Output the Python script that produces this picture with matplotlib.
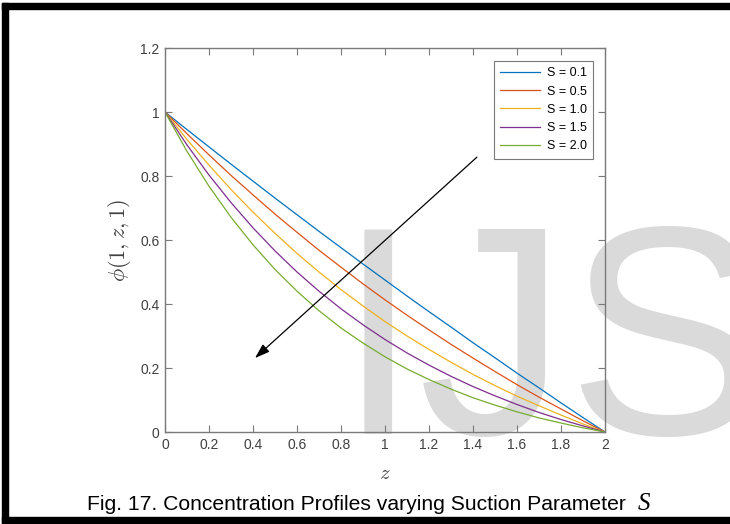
import numpy as np
import matplotlib
matplotlib.use("Agg")
import matplotlib.pyplot as plt
from matplotlib.patches import Rectangle

plt.rcParams["mathtext.fontset"] = "cm"

# values (z = 0, 0.1, ..., 2)
z = [0.0, 0.1, 0.2, 0.3, 0.4, 0.5, 0.6, 0.7, 0.8, 0.9, 1.0,
     1.1, 1.2, 1.3, 1.4, 1.5, 1.6, 1.7, 1.8, 1.9, 2.0]
phi_s01 = [1.0, 0.945, 0.891, 0.837, 0.784, 0.731, 0.679, 0.627, 0.576, 0.525, 0.475,
           0.425, 0.376, 0.328, 0.279, 0.232, 0.184, 0.138, 0.091, 0.045, 0.0]
phi_s05 = [1.0, 0.932, 0.866, 0.802, 0.741, 0.681, 0.624, 0.568, 0.515, 0.463, 0.413,
           0.365, 0.319, 0.274, 0.231, 0.189, 0.148, 0.109, 0.072, 0.035, 0.0]
phi_s10 = [1.0, 0.914, 0.834, 0.758, 0.687, 0.621, 0.558, 0.500, 0.445, 0.394, 0.345,
           0.300, 0.258, 0.218, 0.180, 0.145, 0.112, 0.082, 0.053, 0.025, 0.0]
phi_s15 = [1.0, 0.897, 0.803, 0.717, 0.638, 0.566, 0.500, 0.440, 0.385, 0.335, 0.289,
           0.247, 0.209, 0.174, 0.142, 0.113, 0.086, 0.061, 0.039, 0.019, 0.0]
phi_s20 = [1.0, 0.877, 0.768, 0.671, 0.585, 0.508, 0.440, 0.379, 0.325, 0.278, 0.235,
           0.197, 0.164, 0.134, 0.107, 0.084, 0.063, 0.044, 0.028, 0.013, 0.0]
labels = ["S = 0.1", "S = 0.5", "S = 1.0", "S = 1.5", "S = 2.0"]
colors = ["#0072BD", "#D95319", "#EDB120", "#7E2F8E", "#77AC30"]

xticks = [0, 0.2, 0.4, 0.6, 0.8, 1, 1.2, 1.4, 1.6, 1.8, 2]
xticklabels = ["0", "0.2", "0.4", "0.6", "0.8", "1", "1.2", "1.4", "1.6", "1.8", "2"]
yticks = [0, 0.2, 0.4, 0.6, 0.8, 1, 1.2]
yticklabels = ["0", "0.2", "0.4", "0.6", "0.8", "1", "1.2"]

arrow_start = (1.418, 0.859)
arrow_end = (0.409, 0.231)

caption = "Fig. 17. Concentration Profiles varying Suction Parameter"

W, H = 730, 524
fig = plt.figure(figsize=(W / 100, H / 100), dpi=100)
fig.patch.set_facecolor("white")

# black frame (top, left, bottom)
fig.patches.append(Rectangle((2 / W, 1 - 9 / H), 1, 6 / H, transform=fig.transFigure,
                             color="black", zorder=5))
fig.patches.append(Rectangle((2 / W, 1 / H), 5.5 / W, 1 - 4 / H, transform=fig.transFigure,
                             color="black", zorder=5))
fig.patches.append(Rectangle((2 / W, 1 / H), 1, 6 / H, transform=fig.transFigure,
                             color="black", zorder=5))

# watermark behind the axes
fig.text(337 / W, 1 - 434 / H, "IJS", fontsize=214, family="Liberation Sans",
         color="#dadada", ha="left", va="baseline", zorder=-1)

ax = fig.add_axes([165 / W, 1 - 432 / H, 440 / W, 384 / H])
ax.patch.set_alpha(0)

series = [phi_s01, phi_s05, phi_s10, phi_s15, phi_s20]
for vals, lab, c in zip(series, labels, colors):
    ax.plot(z, vals, color=c, lw=0.9, label=lab)

ax.annotate("", xy=arrow_end, xytext=arrow_start,
            arrowprops=dict(arrowstyle="-|>,head_length=0.9,head_width=0.3",
                            color="black", lw=0.9, mutation_scale=10,
                            shrinkA=0, shrinkB=0))

ax.set_xlim(0, 2)
ax.set_ylim(0, 1.2)
ax.set_xticks(xticks)
ax.set_xticklabels(xticklabels)
ax.set_yticks(yticks)
ax.set_yticklabels(yticklabels)
ax.tick_params(direction="in", length=5, width=0.8, color="#7a7a7a",
               top=True, right=True, labelsize=10, labelcolor="#404040", pad=4)
for lab in ax.get_xticklabels() + ax.get_yticklabels():
    lab.set_family("Liberation Sans")
for sp in ax.spines.values():
    sp.set_color("#7a7a7a")
    sp.set_linewidth(1.0)

ax.set_ylabel(r"$\phi(1,z,1)$", fontsize=16, color="#404040", labelpad=5)
ax.set_xlabel(r"$z$", fontsize=15, color="#404040", labelpad=8)

leg = ax.legend(loc="upper right", bbox_to_anchor=(0.9727, 0.966), borderaxespad=0,
                fancybox=False, edgecolor="#7a7a7a", framealpha=1,
                prop={"family": "Liberation Sans", "size": 9},
                handlelength=3.2, handletextpad=0.5, labelspacing=0.5, borderpad=0.5)
leg.get_frame().set_linewidth(0.8)

cap = fig.text(87 / W, 1 - 510 / H, caption, fontsize=15.2, family="Liberation Sans",
               color="black", ha="left", va="baseline")
fig.canvas.draw()
bb = cap.get_window_extent()
fig.text((bb.x1 + 12) / W, 1 - 510 / H, "S", fontsize=18, family="Liberation Serif",
         style="italic", color="black", ha="left", va="baseline")

fig.savefig("out.png", dpi=100)
